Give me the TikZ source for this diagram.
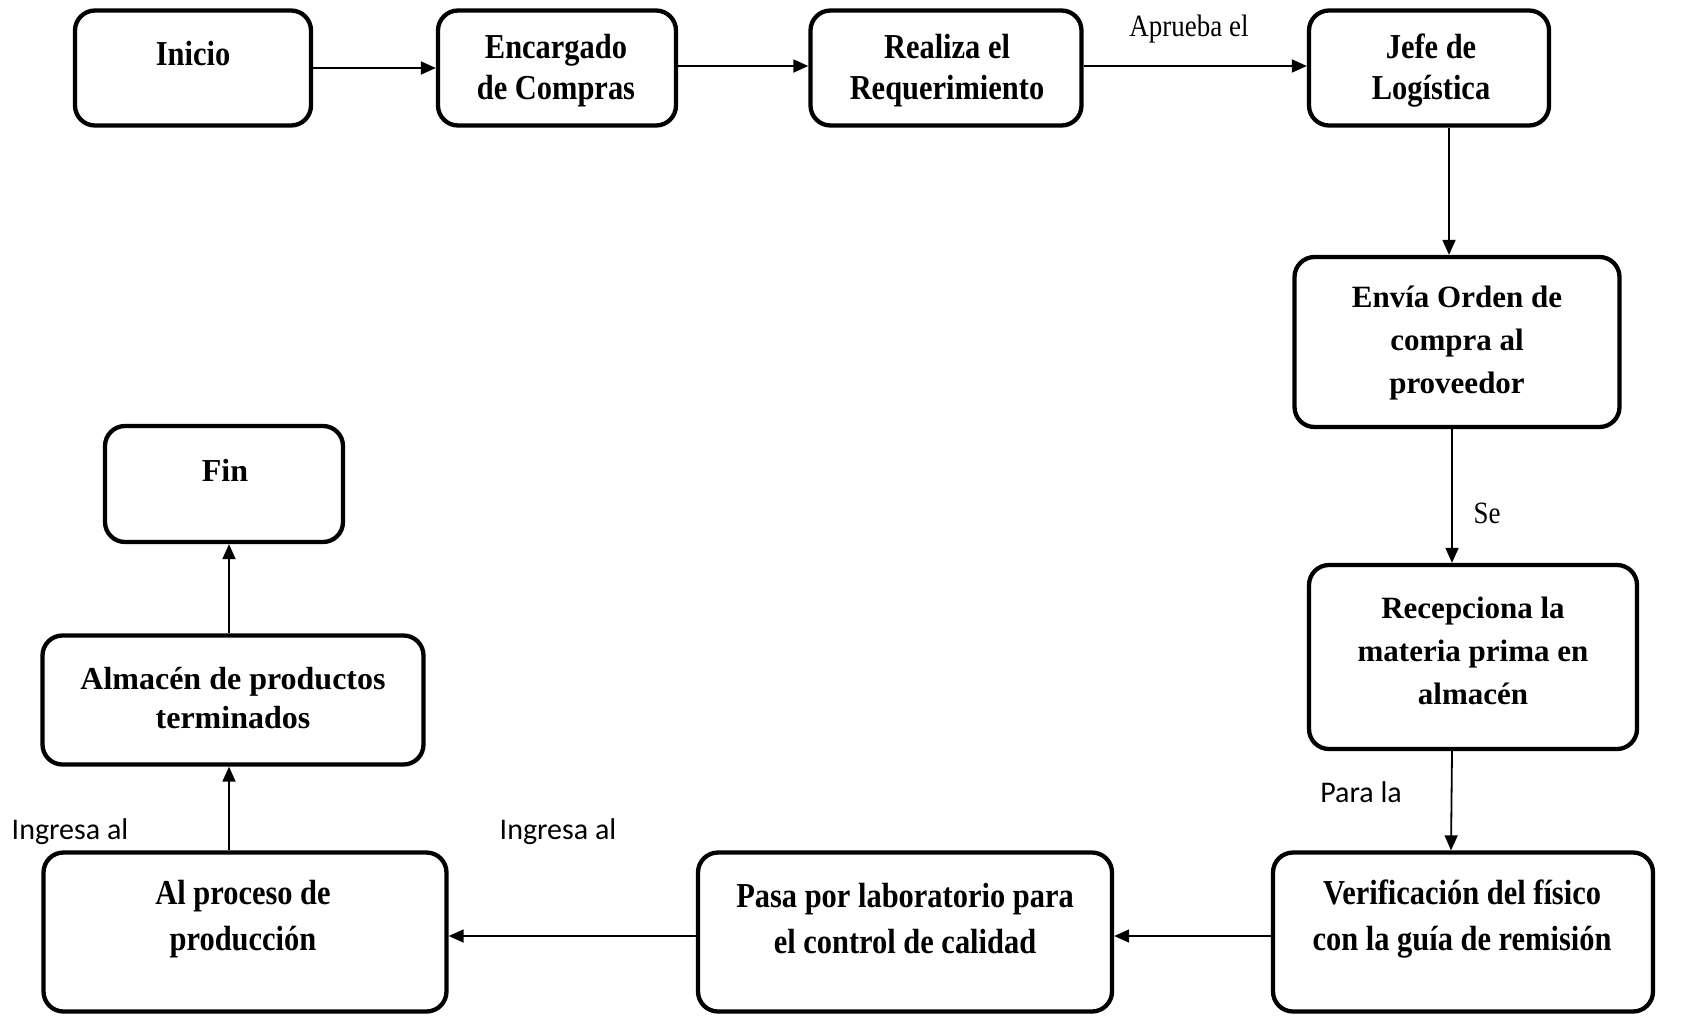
\documentclass[tikz,border=0pt]{standalone}
\usepackage{fontspec}
\setmainfont{Liberation Serif}
\newfontfamily\condfont{Liberation Serif}[FakeStretch=0.87]
\newfontfamily\labsans{Carlito}
\usetikzlibrary{arrows.meta}
\tikzset{
  box/.style={draw=black, line width=4.3pt, rounded corners=20pt, fill=none, inner sep=0pt},
  btxt/.style={align=center, font=\fontsize{31}{41}\selectfont\bfseries, inner sep=0pt},
  ctxt/.style={align=center, font=\fontsize{35}{41}\condfont\bfseries, inner sep=0pt},
  lbl/.style={font=\fontsize{31}{34}\condfont, inner sep=0pt},
  slbl/.style={font=\fontsize{30}{34}\labsans, inner sep=0pt},
  conn/.style={draw=black, line width=1.8pt, -{Triangle[length=15pt,width=13pt]}}
}
\begin{document}
\begin{tikzpicture}[x=1pt,y=-1pt]
\useasboundingbox (0,0) rectangle (1683,1015);
% boxes
\node[box, minimum width=236pt, minimum height=115pt] (inicio) at (193,68) {};
\node[box, minimum width=238pt, minimum height=115pt] (encargado) at (557,68) {};
\node[box, minimum width=271pt, minimum height=115pt] (realiza) at (946,68) {};
\node[box, minimum width=240pt, minimum height=115pt] (jefe) at (1429,68) {};
\node[box, minimum width=325pt, minimum height=170pt] (envia) at (1457,342) {};
\node[box, minimum width=328pt, minimum height=184pt] (recep) at (1473,657) {};
\node[box, minimum width=380pt, minimum height=159pt] (verif) at (1463,932) {};
\node[box, minimum width=414pt, minimum height=159pt] (pasa) at (905,932) {};
\node[box, minimum width=403pt, minimum height=159pt] (proceso) at (245,932) {};
\node[box, minimum width=381pt, minimum height=129pt] (almacen) at (233,700) {};
\node[box, minimum width=238pt, minimum height=116pt] (fin) at (224,484) {};
% texts
\node[ctxt] (tinicio) at (193,54) {Inicio};
\node[ctxt] (tencargado) at (556,71) {Encargado\\de Compras};
\node[ctxt] (trealiza) at (947,71) {Realiza el\\Requerimiento};
\node[ctxt] (tjefe) at (1431,71) {Jefe de\\Logística};
\node[btxt, font=\fontsize{31}{43}\selectfont\bfseries] (tenvia) at (1457,343) {Envía Orden de\\compra al\\proveedor};
\node[btxt, font=\fontsize{31}{43}\selectfont\bfseries] (trecep) at (1473,651) {Recepciona la\\materia prima en\\almacén};
\node[ctxt, font=\fontsize{35}{46}\condfont\bfseries] (tverif) at (1462,919) {Verificación del físico\\con la guía de remisión};
\node[ctxt, font=\fontsize{35}{46}\condfont\bfseries] (tpasa) at (905,919) {Pasa por laboratorio para\\el control de calidad};
\node[ctxt, font=\fontsize{35}{46}\condfont\bfseries] (tproceso) at (243,919) {Al proceso de\\producción};
\node[btxt, font=\fontsize{32}{39}\selectfont\bfseries] (talmacen) at (233,698) {Almacén de productos\\terminados};
\node[btxt, font=\fontsize{32}{39}\selectfont\bfseries] (tfin) at (225,470) {Fin};
% labels
\node[lbl] (laprueba) at (1189,29) {Aprueba el};
\node[lbl] (lse) at (1487,513) {Se};
\node[slbl] (lpara) at (1361,792) {Para la};
\node[slbl] (ling1) at (558,832) {Ingresa al};
\node[slbl] (ling2) at (70,832) {Ingresa al};
% connectors
\draw[conn] (inicio.east) -- (encargado.west);
\draw[conn] ([yshift=2pt]encargado.east) -- ([yshift=2pt]realiza.west);
\draw[conn] ([yshift=2pt]realiza.east) -- ([yshift=2pt]jefe.west);
\draw[conn] ([xshift=20pt]jefe.south) -- ([xshift=-8pt]envia.north);
\draw[conn] ([xshift=-5pt]envia.south) -- ([xshift=-21pt]recep.north);
\draw[conn] ([xshift=-21pt]recep.south) -- ([xshift=-12pt]verif.north);
\draw[conn] ([yshift=-4pt]verif.west) -- ([yshift=-4pt]pasa.east);
\draw[conn] ([yshift=-4pt]pasa.west) -- ([yshift=-4pt]proceso.east);
\draw[conn] ([xshift=-16pt]proceso.north) -- ([xshift=-4pt]almacen.north |- almacen.south);
\draw[conn] ([xshift=-4pt]almacen.north) -- ([xshift=5pt]fin.south);
\end{tikzpicture}
\end{document}
